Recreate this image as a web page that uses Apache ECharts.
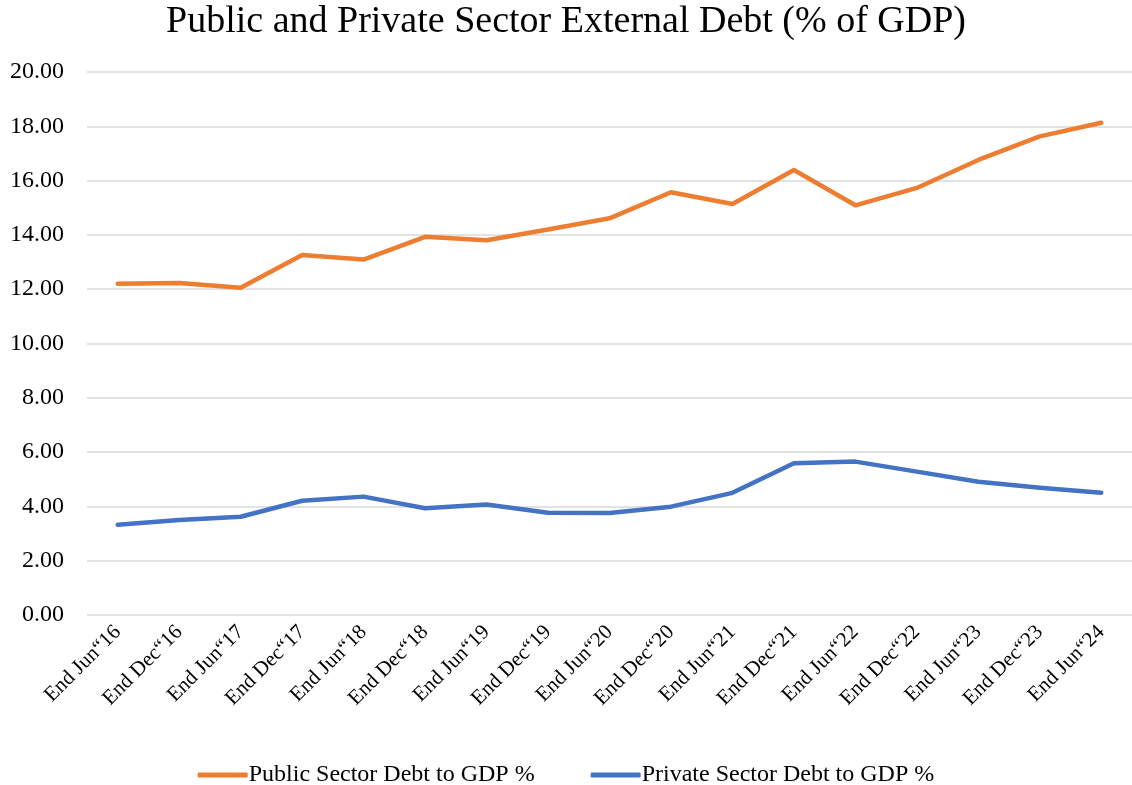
<!DOCTYPE html>
<html>
<head>
<meta charset="utf-8">
<script src="https://cdn.jsdelivr.net/npm/echarts@6/dist/echarts.min.js"></script>
<style>
  html, body { margin: 0; padding: 0; background: #fff; }
  #chart { width: 1132px; height: 785px; }
</style>
</head>
<body>
<div id="chart"></div>
<script>
const categories = [
  'End Jun\u201c16', 'End Dec\u201c16', 'End Jun\u201c17', 'End Dec\u201c17',
  'End Jun\u201c18', 'End Dec\u201c18', 'End Jun\u201c19', 'End Dec\u201c19',
  'End Jun\u201c20', 'End Dec\u201c20', 'End Jun\u201c21', 'End Dec\u201c21',
  'End Jun\u201c22', 'End Dec\u201c22', 'End Jun\u201c23', 'End Dec\u201c23',
  'End Jun\u201c24'
]
const publicDebt = [12.20, 12.23, 12.05, 13.26, 13.09, 13.93, 13.80, 14.20, 14.61,
  15.57, 15.14, 16.39, 15.09, 15.73, 16.76, 17.63, 18.13]
const privateDebt = [3.32, 3.50, 3.62, 4.21, 4.36, 3.93, 4.07, 3.77, 3.76,
  3.99, 4.50, 5.59, 5.65, 5.28, 4.91, 4.69, 4.50]

const font = '"Liberation Serif", "DejaVu Serif", serif'

const chart = echarts.init(document.getElementById('chart'), null, { renderer: 'canvas' })
chart.setOption({
  animation: false,
  textStyle: { fontFamily: font },
  title: {
    text: 'Public and Private Sector External Debt (% of GDP)',
    left: 'center',
    top: -2,
    textStyle: { fontFamily: font, fontSize: 38, fontWeight: 'normal', color: '#000' }
  },
  legend: {
    top: 758,
    left: 'center',
    itemWidth: 50,
    itemHeight: 5,
    itemGap: 56,
    icon: 'roundRect',
    textStyle: { fontFamily: font, fontSize: 24, color: '#000', padding: [0, 0, 0, -4] },
    data: ['Public Sector Debt to GDP %', 'Private Sector Debt to GDP %']
  },
  grid: { left: 87, right: 0, top: 72, bottom: 170 },
  xAxis: {
    type: 'category',
    data: categories,
    boundaryGap: true,
    axisLine: { show: false },
    axisTick: { show: false },
    axisLabel: {
      rotate: 45,
      interval: 0,
      margin: 14,
      fontFamily: font,
      fontSize: 21,
      color: '#000'
    }
  },
  yAxis: {
    type: 'value',
    min: 0,
    max: 20,
    interval: 2,
    axisLine: { show: false },
    axisTick: { show: false },
    axisLabel: {
      margin: 23,
      fontFamily: font,
      fontSize: 24,
      color: '#000',
      formatter: v => v.toFixed(2)
    },
    splitLine: { lineStyle: { color: '#d9d9d9', width: 1.5 } }
  },
  series: [
    {
      name: 'Public Sector Debt to GDP %',
      type: 'line',
      data: publicDebt,
      symbol: 'none',
      color: '#ED7D31',
      lineStyle: { width: 4.5, cap: 'round', join: 'round' }
    },
    {
      name: 'Private Sector Debt to GDP %',
      type: 'line',
      data: privateDebt,
      symbol: 'none',
      color: '#4472C4',
      lineStyle: { width: 4.5, cap: 'round', join: 'round' }
    }
  ]
})
</script>
</body>
</html>
